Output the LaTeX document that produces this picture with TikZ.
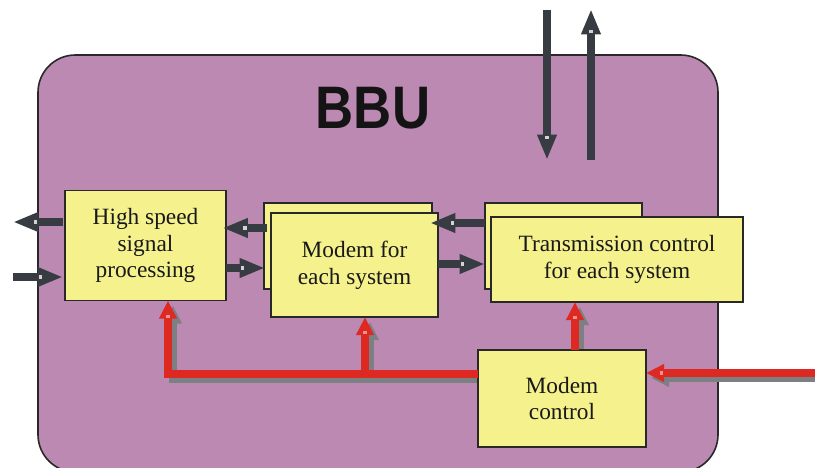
\documentclass[tikz,border=0pt]{standalone}
\usepackage{fontspec}
\setmainfont{Liberation Serif}
\newfontfamily\bbufont{Liberation Sans}
\usetikzlibrary{arrows.meta,calc,decorations.markings}
\pgfdeclarelayer{back}
\pgfdeclarelayer{shade}
\pgfsetlayers{back,shade,main}
\definecolor{bbupurple}{RGB}{187,137,177}
\definecolor{boxyellow}{RGB}{245,241,140}
\definecolor{gcol}{RGB}{54,60,65}
\definecolor{rcol}{RGB}{221,41,33}
\definecolor{shcol}{RGB}{125,128,130}
\definecolor{edgecol}{RGB}{40,40,40}
\definecolor{notchg}{RGB}{215,208,215}
\definecolor{notchr}{RGB}{235,150,140}
\tikzset{
  blk/.style={draw=edgecol, line width=1.1pt, fill=boxyellow, inner sep=0pt, outer sep=0pt,
    align=center, font=\fontsize{17.5}{20}\selectfont, text=black!90},
  garrow/.style={draw=gcol, line width=6.3pt, -{Triangle[length=19pt,width=13.5pt]},
    postaction={decorate, decoration={markings, mark=at position -16.8pt with
      {\fill[notchg] (-1.3pt,-1.4pt) rectangle (1.3pt,1.4pt);}}}},
  rarrow/.style={draw=rcol, line width=6.3pt, -{Triangle[length=13.5pt,width=12.5pt]},
    postaction={decorate, decoration={markings, mark=at position -11.8pt with
      {\fill[notchr] (-1.2pt,-1.4pt) rectangle (1.2pt,1.4pt);}}}},
  rshadow/.style={draw=shcol, line width=6.3pt, -{Triangle[length=13.5pt,width=12.5pt]},
    transform canvas={shift={(3.75pt,-3.75pt)}}}
}
\begin{document}
\begin{tikzpicture}[x=0.75pt, y=-0.75pt]
\useasboundingbox (0,0) rectangle (815,468);
% BBU enclosure
\begin{pgfonlayer}{back}
\draw[draw=edgecol, line width=1.2pt, fill=bbupurple, rounded corners=28pt] (38,55) rectangle (718,472);
\end{pgfonlayer}
\node[anchor=base, font=\bbufont\bfseries\fontsize{45}{50}\selectfont, text=black!92] (title) at (373,128) {\scalebox{0.88}[1]{BBU}};

% blocks
\node[blk, minimum width=120.75pt, minimum height=82.5pt] (hs) at (145.5,245.5) {High speed\\signal\\processing};
\node[blk, minimum width=126pt, minimum height=64.5pt] (mdb) at (348,246) {};
\node[blk, minimum width=125.25pt, minimum height=78pt] (mdf) at (354.5,265) {Modem for\\each system};
\node[blk, minimum width=117.75pt, minimum height=64.5pt] (trb) at (563.5,246) {};
\node[blk, minimum width=189pt, minimum height=63.75pt] (trf) at (617,259.5) {Transmission control\\for each system};
\node[blk, minimum width=126pt, minimum height=72.75pt] (mc) at (562,398.5) {Modem\\control};

% free ends
\coordinate (outL) at (13,222);
\coordinate (inL) at (13,277);
\coordinate (d1) at (547,10);
\coordinate (d2) at (547,160);
\coordinate (u1) at (591,160);
\coordinate (u2) at (591,9);
\coordinate (inR) at (815,373);
\coordinate (j0) at (mc.west |- 0,374);
\coordinate (j1) at (365,374);

% gray data arrows
\draw[garrow] ($(hs.west |- 0,222)+(-2,0)$) -- (outL);
\draw[garrow] (inL) -- ($(hs.west |- 0,277)+(-2,0)$);
\draw[garrow] ($(mdb.west |- 0,228)+(3,0)$) -- ($(hs.east |- 0,228)+(-3.5,0)$);
\draw[garrow] (hs.east |- 0,268) -- ($(mdb.west |- 0,268)+(1,0)$);
\draw[garrow] (trb.west |- 0,223) -- ($(mdf.east |- 0,223)+(-8,0)$);
\draw[garrow] (mdf.east |- 0,264) -- (trb.west |- 0,264);
\draw[garrow] (d1) -- (d2);
\draw[garrow] (u1) -- (u2);

% red control arrows: shadows
\begin{pgfonlayer}{shade}
\draw[rshadow] (j0) -| (hs.south -| 168,0);
\draw[rshadow] (j1) -- (mdf.south -| j1);
\draw[rshadow] (mc.north -| 575,0) -- (trf.south -| 575,0);
\draw[rshadow] (inR) -- (mc.east |- inR);
\end{pgfonlayer}
% red control arrows
\draw[rarrow] (j0) -| (hs.south -| 168,0);
\draw[rarrow] (j1) -- (mdf.south -| j1);
\draw[rarrow] (mc.north -| 575,0) -- (trf.south -| 575,0);
\draw[rarrow] (inR) -- (mc.east |- inR);
\end{tikzpicture}
\end{document}
